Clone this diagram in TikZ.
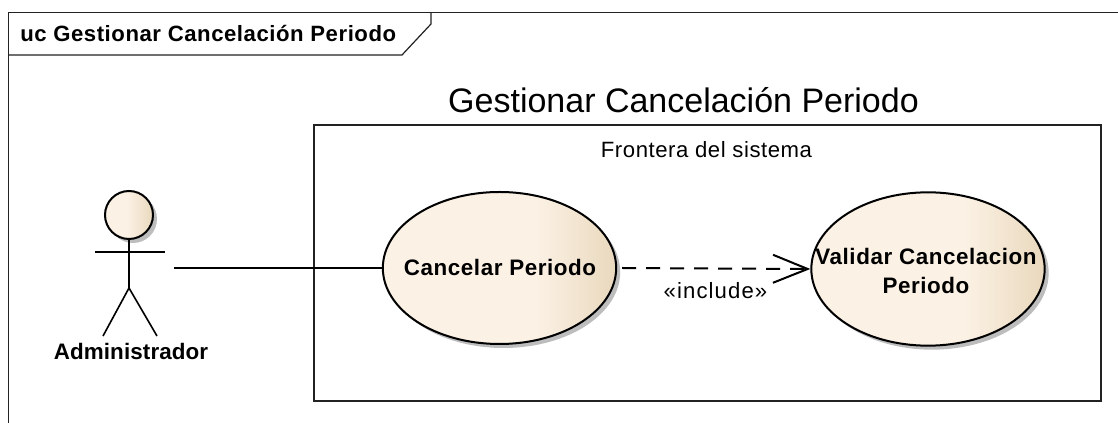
\documentclass[tikz,border=0pt]{standalone}
\usepackage{fontspec}
\setmainfont{Liberation Sans}
\usetikzlibrary{shapes.geometric,arrows.meta,shadows}
\definecolor{ucA}{HTML}{FBF1E4}
\definecolor{ucB}{HTML}{E9D8BD}
\definecolor{ucShadow}{HTML}{BDBDBD}
\definecolor{ucLine}{HTML}{222222}
\pgfdeclarehorizontalshading{ucfill}{100bp}{color(0bp)=(ucA); color(25bp)=(ucA); color(50bp)=(ucA); color(58bp)=(ucA); color(75bp)=(ucB); color(100bp)=(ucB)}
\pgfdeclarehorizontalshading{headfill}{100bp}{color(0bp)=(ucA); color(25bp)=(ucA); color(48bp)=(ucA); color(75bp)=(ucB); color(100bp)=(ucB)}
\newfontfamily\spacedA[LetterSpace=2.5]{Liberation Sans}
\newfontfamily\spacedB[LetterSpace=0.5]{Liberation Sans}
\newfontfamily\spacedC[LetterSpace=5]{Liberation Sans}
\newfontfamily\spacedD[LetterSpace=2.5]{Liberation Sans}
\tikzset{
  x=0.75pt,y=-0.75pt,
  usecase/.style={ellipse,draw=black,line width=1.5pt,shading=ucfill,inner sep=0pt,
    drop shadow={shadow xshift=3pt,shadow yshift=-3pt,fill=ucShadow,opacity=1}},
  uclabel/.style={inner sep=0pt,black,align=center,font=\fontsize{16.8}{21.5}\selectfont\spacedA\bfseries},
  head/.style={circle,draw=black,line width=1.5pt,shading=headfill,inner sep=0pt,minimum size=36pt,
    drop shadow={shadow xshift=3pt,shadow yshift=-3pt,fill=ucShadow,opacity=1}},
  limb/.style={line width=1.2pt,black},
  frameline/.style={line width=0.9pt,ucLine},
  assoc/.style={line width=1.5pt,black},
  incl/.style={line width=1.5pt,black,dash pattern=on 10.5pt off 7.5pt,-{Straight Barb[length=26pt,width=21pt,line width=1.5pt]}},
  plain/.style={inner sep=0pt,black}
}
\begin{document}
\begin{tikzpicture}
\useasboundingbox (0,0) rectangle (1118,423);
\fill[white] (0,0) rectangle (1118,423);
% frame
\draw[frameline] (8.5,423) -- (8.5,12.5) -- (1118,12.5);
\coordinate (tabL) at (8.5,55);
\coordinate (tabB) at (402,55);
\coordinate (tabD) at (431,24);
\coordinate (tabT) at (431,12.5);
\draw[frameline] (tabL) -- (tabB) -- (tabD) -- (tabT);
\node[plain,anchor=base west,font=\fontsize{16.6}{18}\selectfont\spacedA\bfseries] (frametitle) at (20,41.5) {uc Gestionar Cancelación Periodo};
% boundary
\node[plain,anchor=base,font=\fontsize{25.5}{32}\selectfont] (systitle) at (683.5,113) {Gestionar Cancelación Periodo};
\node[draw=ucLine,line width=1.3pt,minimum width=590.5pt,minimum height=207pt,inner sep=0pt,anchor=north west] (boundary) at (313,124) {};
\node[plain,anchor=base,font=\fontsize{16.6}{18}\selectfont\spacedD] (front) at (706.5,157.5) {Frontera del sistema};
% actor
\node[head] (head) at (129,215) {};
\coordinate (hip) at (129,288);
\coordinate (armL) at (95,252);
\coordinate (armR) at (165,252);
\coordinate (legL) at (103,336);
\coordinate (legR) at (157,336);
\draw[limb] (head.south) -- (hip);
\draw[limb] (armL) -- (armR);
\draw[limb] (legL) -- (hip) -- (legR);
\node[plain,anchor=base,font=\fontsize{16.8}{18}\selectfont\spacedB\bfseries] (actorname) at (131,360) {Administrador};
\coordinate (actorend) at (174,268);
% use cases
\node[usecase,minimum width=175pt,minimum height=114pt] (cp) at (499.5,268) {};
\node[uclabel,anchor=base] (cptext) at (500,276) {Cancelar Periodo};
\node[usecase,minimum width=175pt,minimum height=115pt] (vc) at (928,269) {};
\node[uclabel] (vctext) at (926,271) {Validar Cancelacion\\Periodo};
\coordinate (dashstart) at (622,268);
\draw[assoc] (actorend) -- (cp.west);
\draw[incl] (dashstart) -- (vc.west);
\node[plain,anchor=base,font=\fontsize{16.6}{18}\selectfont\spacedC] (incllabel) at (715.5,299) {«include»};
\end{tikzpicture}
\end{document}
